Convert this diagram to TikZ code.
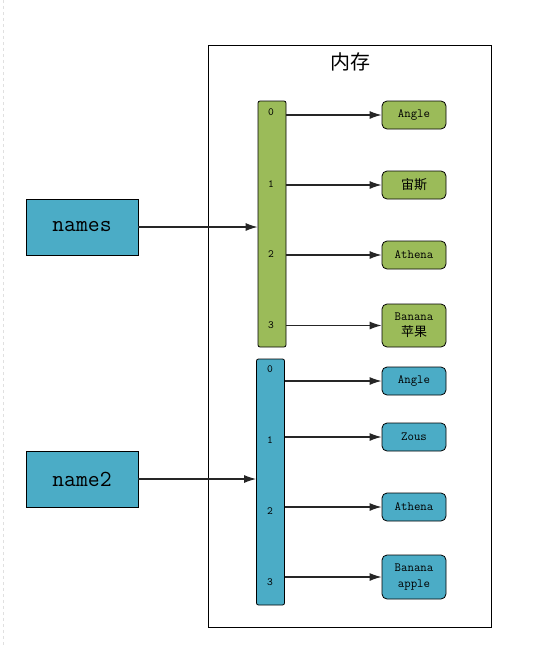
\documentclass[tikz,border=0pt]{standalone}
\usepackage{fontspec}
\usepackage{xcolor}
\usepackage{tikz}
\usetikzlibrary{arrows.meta}
\newfontfamily\monofont{Latin Modern Mono}
\newfontfamily\cjk{Noto Sans CJK SC}
\definecolor{olivegreen}{RGB}{155,187,89}
\definecolor{seablue}{RGB}{75,172,198}

\begin{document}
\begin{tikzpicture}[x=1pt, y=-1pt]
        \def\boxx{414}
        \def\arrg{272}
        \def\arrb{270.5}
        \tikzstyle{var}=[draw=black, line width=0.8pt, fill=seablue, minimum width=112pt, minimum height=56pt, font=\monofont\fontsize{23}{23}\selectfont]
        \tikzstyle{array}=[draw=black, line width=0.8pt, rounded corners=2pt, minimum width=28pt, minimum height=246pt]
        \tikzstyle{index}=[inner sep=0pt, font=\monofont\fontsize{11}{11}\selectfont]
        \tikzstyle{value}=[draw=black, line width=0.8pt, rounded corners=5pt, minimum width=64pt, minimum height=28pt, inner sep=1pt, align=center, font=\monofont\fontsize{12.5}{16}\selectfont]
        \tikzstyle{link}=[-{Latex[length=12pt, width=8pt]}, line width=1.2pt, draw=black!85]

        \useasboundingbox (0,0) rectangle (545,648);
        \draw[black!12, dashed] (3,0) -- (3,648);

        % Memory
        \draw node at (349.5, 336) [draw=black, line width=0.6pt, minimum width=283pt, minimum height=582pt] (memory) {};
        \draw node at (350, 62) [font=\cjk\fontsize{20}{20}\selectfont] (title) {内存};

        % Variables
        \draw node at (82, 227) [var] (names) {names};
        \draw node at (82, 479) [var] (name2) {name2};

        % Array of names
        \draw node at (\arrg, 224) [array, fill=olivegreen] (arr_0) {};
        \draw node at (271, 112) [index] (idx_0_0) {0};
        \draw node at (271, 184) [index] (idx_0_1) {1};
        \draw node at (271, 254) [index] (idx_0_2) {2};
        \draw node at (271, 325) [index] (idx_0_3) {3};

        \draw node at (\boxx, 115) [value, fill=olivegreen] (val_0_0) {Angle};
        \draw node at (\boxx, 185) [value, fill=olivegreen] (val_0_1) {\cjk\fontsize{13}{13}\selectfont 宙斯};
        \draw node at (\boxx, 255) [value, fill=olivegreen] (val_0_2) {Athena};
        \draw node at (\boxx, 325.5) [value, fill=olivegreen, minimum height=43pt] (val_0_3) {Banana\\{\cjk\fontsize{13}{13}\selectfont 苹果}};

        % Array of name2
        \draw node at (\arrb, 482) [array, fill=seablue] (arr_1) {};
        \draw node at (270, 369) [index] (idx_1_0) {0};
        \draw node at (270, 440) [index] (idx_1_1) {1};
        \draw node at (270, 511) [index] (idx_1_2) {2};
        \draw node at (270, 582) [index] (idx_1_3) {3};

        \draw node at (\boxx, 381) [value, fill=seablue] (val_1_0) {Angle};
        \draw node at (\boxx, 437) [value, fill=seablue] (val_1_1) {Zous};
        \draw node at (\boxx, 507) [value, fill=seablue] (val_1_2) {Athena};
        \draw node at (\boxx, 577) [value, fill=seablue, minimum height=44pt] (val_1_3) {Banana\\apple};

        % Variable -> Array
        \draw [link] (names.east) -- (names.east -| arr_0.west);
        \draw [link] (name2.east) -- (name2.east -| arr_1.west);

        % Array -> Values
        \foreach \i in {0,...,1}
        \foreach \j in {0,...,3}
        \draw [link] (arr_\i.east |- val_\i_\j.west) -- (val_\i_\j.west);

    \end{tikzpicture}
\end{document}
